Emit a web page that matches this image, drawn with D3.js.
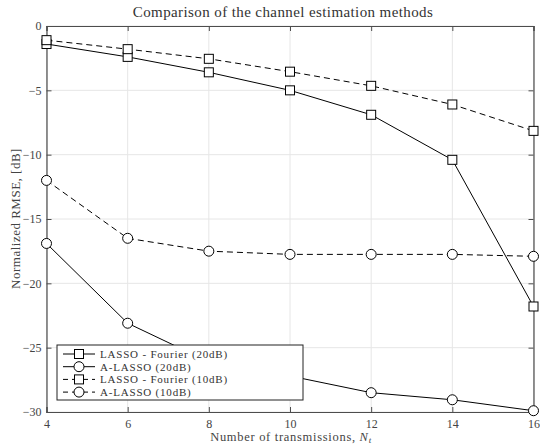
<!DOCTYPE html>
<html>
<head>
<meta charset="utf-8">
<script src="https://cdn.jsdelivr.net/npm/d3@7"></script>
<style>
body { margin: 0; background: #fff; }
text { font-family: "Liberation Serif", "DejaVu Serif", serif; }
</style>
</head>
<body>
<script>
// data
var transmissions = [4, 6, 8, 10, 12, 14, 16];
var lassoFourier20 = [-1.4, -2.4, -3.6, -5.0, -6.9, -10.4, -21.8];
var aLasso20 = [-16.9, -23.1, -26.1, -27.2, -28.5, -29.05, -29.9];
var lassoFourier10 = [-1.1, -1.8, -2.55, -3.55, -4.65, -6.1, -8.15];
var aLasso10 = [-12.0, -16.5, -17.5, -17.75, -17.75, -17.75, -17.9];
var xTicks = [4, 6, 8, 10, 12, 14, 16];
var yTicks = [0, -5, -10, -15, -20, -25, -30];

var series = [
    {name: 'LASSO - Fourier (20dB)', vals: lassoFourier20, marker: 'square', dash: null},
    {name: 'A-LASSO (20dB)', vals: aLasso20, marker: 'circle', dash: null},
    {name: 'LASSO - Fourier (10dB)', vals: lassoFourier10, marker: 'square', dash: '6,4'},
    {name: 'A-LASSO (10dB)', vals: aLasso10, marker: 'circle', dash: '6,4'}
];

var width = 540, height = 446;
var m = {left: 46.5, right: 6.5, top: 26, bottom: 34};
var svg = d3.select('body').append('svg').attr('width', width).attr('height', height);

var x = d3.scaleLinear().domain([4, 16]).range([m.left, width - m.right]);
var y = d3.scaleLinear().domain([-30, 0]).range([height - m.bottom, m.top]);

// grid
var grid = svg.append('g');
grid.selectAll('.gx').data(xTicks).enter().append('line')
    .attr('x1', d => x(d)).attr('x2', d => x(d))
    .attr('y1', y(-30)).attr('y2', y(0))
    .attr('stroke', '#e6e6e6').attr('stroke-width', 1);
grid.selectAll('.gy').data(yTicks).enter().append('line')
    .attr('x1', x(4)).attr('x2', x(16))
    .attr('y1', d => y(d)).attr('y2', d => y(d))
    .attr('stroke', '#e6e6e6').attr('stroke-width', 1);

// axes (ticks inside, MATLAB style)
var axCol = '#4d4d4d';
var xAx = svg.append('g').attr('transform', 'translate(0,' + y(-30) + ')')
    .call(d3.axisBottom(x).tickValues(xTicks).tickSize(-5).tickPadding(5).tickFormat(d3.format('d')));
var xAxTop = svg.append('g').attr('transform', 'translate(0,' + y(0) + ')')
    .call(d3.axisTop(x).tickValues(xTicks).tickSize(-5).tickFormat(''));
var yAx = svg.append('g').attr('transform', 'translate(' + x(4) + ',0)')
    .call(d3.axisLeft(y).tickValues(yTicks).tickSize(-5).tickPadding(5).tickFormat(d3.format('d')));
var yAxR = svg.append('g').attr('transform', 'translate(' + x(16) + ',0)')
    .call(d3.axisRight(y).tickValues(yTicks).tickSize(-5).tickFormat(''));
[xAx, xAxTop, yAx, yAxR].forEach(function(a) {
    a.select('.domain').attr('stroke', axCol).attr('stroke-width', 1.2);
    a.selectAll('.tick line').attr('stroke', axCol);
    a.selectAll('text').attr('fill', '#444').style('font-size', '12px')
        .style('font-family', '"Liberation Serif", serif');
});
xAx.selectAll('text').attr('dy', '0.95em');

// lines + markers
var line = d3.line().x((d, i) => x(transmissions[i])).y(d => y(d));
series.forEach(function(s) {
    svg.append('path')
        .attr('d', line(s.vals))
        .attr('fill', 'none').attr('stroke', '#000').attr('stroke-width', 1)
        .attr('stroke-dasharray', s.dash);
    var pts = svg.append('g');
    s.vals.forEach(function(v, i) {
        drawMarker(pts, s.marker, x(transmissions[i]), y(v));
    });
});

function drawMarker(g, type, cx, cy) {
    if (type == 'square') {
        g.append('rect').attr('x', cx - 4.5).attr('y', cy - 4.5)
            .attr('width', 9).attr('height', 9)
            .attr('fill', '#fff').attr('stroke', '#000').attr('stroke-width', 1);
    } else {
        g.append('circle').attr('cx', cx).attr('cy', cy).attr('r', 5)
            .attr('fill', '#fff').attr('stroke', '#000').attr('stroke-width', 1);
    }
}

// legend
var lg = svg.append('g');
lg.append('rect').attr('x', 57).attr('y', 345).attr('width', 246).attr('height', 55)
    .attr('fill', '#fff').attr('stroke', '#222').attr('stroke-width', 1);
series.forEach(function(s, i) {
    var ly = 354 + i * 12.7;
    lg.append('line').attr('x1', 63).attr('x2', 95).attr('y1', ly).attr('y2', ly)
        .attr('stroke', '#000').attr('stroke-width', 1)
        .attr('stroke-dasharray', s.dash ? '6,4' : null)
        .attr('stroke-dashoffset', s.dash ? 1 : null);
    drawMarker(lg, s.marker, 79, ly);
    lg.append('text').attr('x', 100).attr('y', ly).attr('dy', '0.35em')
        .attr('fill', '#333').style('font-size', '11px').style('letter-spacing', '0.8px')
        .text(s.name);
});

// title and labels
svg.append('text').attr('x', 283).attr('y', 17)
    .attr('text-anchor', 'middle').attr('fill', '#333').style('font-size', '15px')
    .style('letter-spacing', '0.4px')
    .text('Comparison of the channel estimation methods');

var xl = svg.append('text').attr('x', 291).attr('y', 441)
    .attr('text-anchor', 'middle').attr('fill', '#444').style('font-size', '12.5px')
    .style('letter-spacing', '0.7px');
xl.append('tspan').text('Number of transmissions, ');
xl.append('tspan').style('font-style', 'italic').text('N');
xl.append('tspan').style('font-style', 'italic').style('font-size', '9px').attr('dy', 2).text('t');

svg.append('text').attr('transform', 'translate(19.5,' + 218.5 + ') rotate(-90)')
    .attr('text-anchor', 'middle').attr('fill', '#444').style('font-size', '13px')
    .style('letter-spacing', '0.5px')
    .text('Normalized RMSE, [dB]');
</script>
</body>
</html>
